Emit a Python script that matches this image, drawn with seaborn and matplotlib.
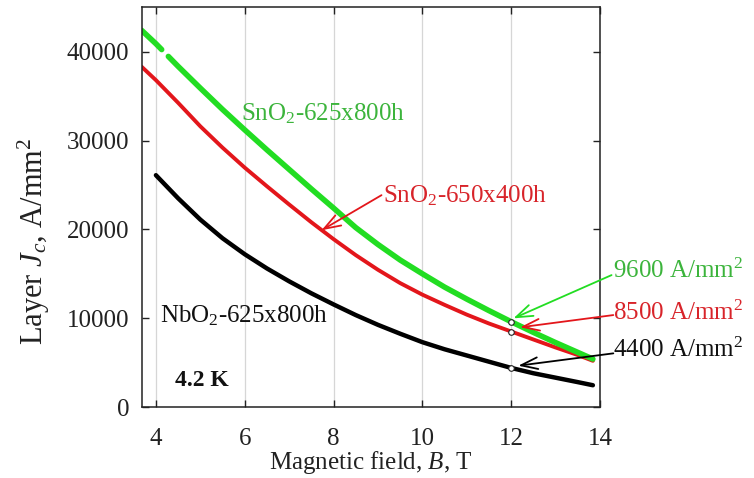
import numpy as np
import pandas as pd
import matplotlib
matplotlib.use("Agg")
import matplotlib.pyplot as plt
import seaborn as sns

# Layer critical current density at 4.2 K versus applied field
green_b = [3.68, 4.0, 4.13, 4.28, 4.5, 5.0, 5.5, 6.0, 6.5, 7.0, 7.5, 8.0, 8.5,
           9.0, 9.5, 10.0, 10.5, 11.0, 11.5, 12.0, 12.5, 13.0, 13.5, 13.84]
green_jc = [42400, 40900, 40240, 39470, 38350, 35900, 33500, 31200, 28950, 26750,
            24550, 22400, 20200, 18300, 16550, 15000, 13500, 12150, 10850, 9600,
            8400, 7250, 6150, 5400]
green_seg = [0, 0, 0] + [1] * 21

red_b = [3.68, 4.0, 4.5, 5.0, 5.5, 6.0, 6.5, 7.0, 7.5, 8.0, 8.5, 9.0, 9.5,
         10.0, 10.5, 11.0, 11.5, 12.0, 12.5, 13.0, 13.5, 13.84]
red_jc = [38300, 36800, 34250, 31600, 29200, 26950, 24850, 22800, 20800, 18900,
          17100, 15450, 13950, 12650, 11500, 10400, 9400, 8500, 7600, 6700,
          5850, 5200]

black_b = [4.0, 4.5, 5.0, 5.5, 6.0, 6.5, 7.0, 7.5, 8.0, 8.5, 9.0, 9.5, 10.0,
           10.5, 11.0, 11.5, 12.0, 12.5, 13.0, 13.5, 13.84]
black_jc = [26100, 23500, 21100, 19000, 17200, 15600, 14150, 12800, 11550, 10350,
            9250, 8250, 7300, 6500, 5800, 5100, 4400, 3800, 3300, 2800, 2450]

# Values at 12 T
b_mark = 12
jc_mark = [9600, 8500, 4400]
mark_labels = ["9600 A/mm$^2$", "8500 A/mm$^2$", "4400 A/mm$^2$"]

x_ticks = [4, 6, 8, 10, 12, 14]
y_ticks = [0, 10000, 20000, 30000, 40000]

GREEN = "#22dd22"
GREEN_TXT = "#3cb43c"
RED = "#e3161b"
RED_TXT = "#d8242a"
BLACK = "#000000"

sns.set_theme(style="ticks")
plt.rcParams["font.family"] = ["Liberation Serif", "DejaVu Serif"]
plt.rcParams["mathtext.fontset"] = "custom"
plt.rcParams["mathtext.rm"] = "Liberation Serif"
plt.rcParams["mathtext.it"] = "Liberation Serif:italic"
plt.rcParams["mathtext.bf"] = "Liberation Serif:bold"

fig = plt.figure(figsize=(7.54, 4.78), dpi=100)
ax = fig.add_axes([141.7 / 754, 71 / 478, (600 - 141.7) / 754, (407 - 7.3) / 478])

df_g = pd.DataFrame({"B": green_b, "Jc": green_jc, "seg": green_seg})
df_r = pd.DataFrame({"B": red_b, "Jc": red_jc})
df_k = pd.DataFrame({"B": black_b, "Jc": black_jc})

sns.lineplot(data=df_k, x="B", y="Jc", color=BLACK, lw=3.2, ax=ax,
             estimator=None, sort=False, solid_capstyle="round")
sns.lineplot(data=df_r, x="B", y="Jc", color=RED, lw=2.8, ax=ax,
             estimator=None, sort=False, solid_capstyle="round")
sns.lineplot(data=df_g, x="B", y="Jc", units="seg", color=GREEN, lw=4.0, ax=ax,
             estimator=None, sort=False, solid_capstyle="round")

sns.scatterplot(x=[b_mark] * 3, y=jc_mark, ax=ax, s=16, color="white",
                edgecolor="#222222", linewidth=0.8, zorder=5)

ax.set_xlim(3.68, 14)
ax.set_ylim(0, 45000)
ax.set_xticks(x_ticks)
ax.set_yticks(y_ticks)
ax.xaxis.grid(True, color="#d6d6d6", lw=0.9)
ax.yaxis.grid(False)
ax.set_axisbelow(True)
for s in ax.spines.values():
    s.set_visible(True)
    s.set_color("#222222")
    s.set_linewidth(1.1)
ax.tick_params(axis="both", direction="in", length=5, width=1, color="#222222",
               top=True, right=True, labelsize=18, labelcolor="#222222")
ax.tick_params(axis="x", pad=15)
ax.tick_params(axis="y", pad=9)

ax.set_xlabel("Magnetic field, $\\mathit{B}$, T", fontsize=18, color="#222222")
ax.set_ylabel("Layer $\\mathit{J_c}$, A/mm$^2$", fontsize=22, color="#222222")
ax.xaxis.set_label_coords(0.5, -0.105)
ax.yaxis.set_label_coords(-0.195, 0.415)

# Curve labels
ax.text(5.92, 33000, "SnO$_2$-625x800h", color=GREEN_TXT, fontsize=18,
        ha="left", va="center")
ax.text(9.12, 23800, "SnO$_2$-650x400h", color=RED_TXT, fontsize=18,
        ha="left", va="center")
ax.text(4.1, 10300, "NbO$_2$-625x800h", color="#111111", fontsize=18,
        ha="left", va="center")
ax.text(4.42, 3000, "4.2 K", color="#111111", fontsize=17, fontweight="bold",
        ha="left", va="center")

arrow_kw = dict(arrowstyle="->,head_length=1.0,head_width=0.35", lw=1.3,
                shrinkA=0, shrinkB=0)
ax.annotate("", xy=(7.73, 19900), xytext=(9.08, 23850),
            arrowprops=dict(color=RED, **arrow_kw))

# Values at 12 T, labelled outside the axes
label_y = [15300, 10600, 6400]
tails = [(14.26, 14850), (14.30, 10350), (14.30, 6040)]
tips = [(12.05, 9980), (12.20, 8970), (12.16, 4650)]
txt_colors = [GREEN_TXT, RED_TXT, "#111111"]
arr_colors = [GREEN, RED, BLACK]
for lab, ly, tail, tip, tc, acol in zip(mark_labels, label_y, tails, tips,
                                        txt_colors, arr_colors):
    ax.text(14.3, ly, lab, color=tc, fontsize=18, ha="left", va="center",
            clip_on=False)
    ax.annotate("", xy=tip, xytext=tail, annotation_clip=False,
                arrowprops=dict(color=acol, **arrow_kw))

fig.savefig("out.png", dpi=100)
